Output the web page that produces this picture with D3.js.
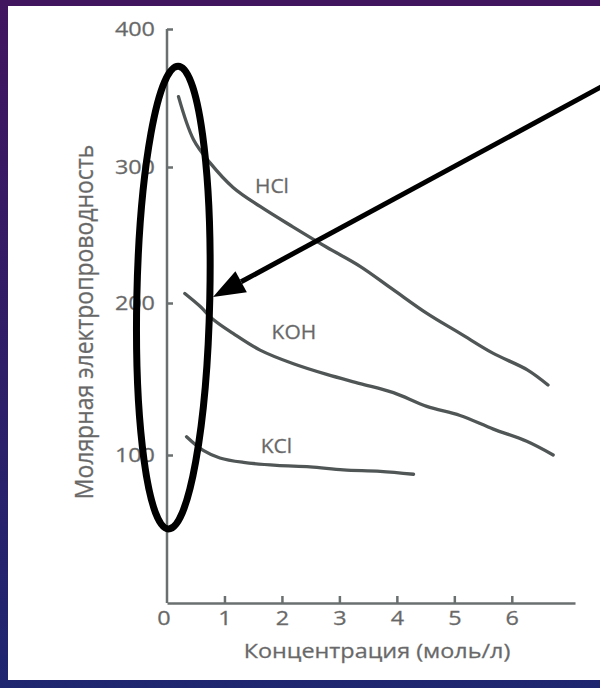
<!DOCTYPE html>
<html lang="ru">
<head>
<meta charset="UTF-8">
<title>Молярная электропроводность</title>
<script src="https://d3js.org/d3.v7.min.js"></script>
<style>
body { margin: 0; overflow: hidden; }
svg { display: block; }
.axis path, .axis line { stroke: #6a6f6f; stroke-width: 2.5px; }
.axis text { fill: #666; stroke: #777; stroke-width: 0.3px; font-family: "Open Sans", sans-serif; font-size: 19.5px; }
.curve { fill: none; stroke: #505555; stroke-width: 3.3px; stroke-linecap: round; }
.curve-label, .axis-title { fill: #666; stroke: #777; stroke-width: 0.3px; font-family: "Open Sans", sans-serif; }
</style>
</head>
<body>
<svg width="600" height="688"></svg>
<script>
// concentration (mol/l) / molar conductivity
const hclX = [0.2, 0.46, 0.75, 1.15, 1.62, 2.19, 2.78, 3.36, 3.93, 4.53, 5.10, 5.67, 6.27, 6.63];
const hclY = [351, 320, 303, 285, 271, 256, 241, 227, 210, 193, 180, 167, 156, 146];

const kohX = [0.31, 0.57, 0.81, 1.15, 1.62, 2.2, 2.78, 3.36, 3.94, 4.52, 5.10, 5.68, 6.26, 6.72];
const kohY = [207, 198, 189, 180, 169, 160, 153, 147, 141, 132, 126, 117, 109, 100];

const kclX = [0.34, 0.63, 0.92, 1.33, 1.91, 2.49, 3.07, 3.71, 4.29];
const kclY = [112, 103, 98, 95, 93, 92, 90, 89, 87];

const seriesNames = ['HCl', 'KOH', 'KCl'];
const labelX = [1.53, 1.82, 1.63];
const labelY = [281, 176, 101];

const xTicks = [0, 1, 2, 3, 4, 5, 6];
const yTicks = [100, 200, 300, 400];
const xTitle = 'Концентрация (моль/л)';
const yTitle = 'Молярная электропроводность';

// the source scan is a bit wider than tall, text looks stretched sideways
const stretch = 1.2;
const widen = (px, k) => `translate(${px},0) scale(${k},1) translate(${-px},0)`;

const svg = d3.select('svg');

// slide background + white panel
const defs = svg.append('defs');
const grad = defs.append('linearGradient')
    .attr('id', 'bg')
    .attr('x1', 0).attr('y1', 0).attr('x2', 0).attr('y2', 1);
grad.append('stop').attr('offset', '0%').attr('stop-color', '#42155f');
grad.append('stop').attr('offset', '100%').attr('stop-color', '#1f2670');

svg.append('rect').attr('width', 600).attr('height', 688).attr('fill', 'url(#bg)');
svg.append('rect')
    .attr('x', 8).attr('y', 6)
    .attr('width', 592).attr('height', 674)
    .attr('fill', '#fff');

// the source figure's tick spacing is uneven, so a piecewise scale
const x = d3.scaleLinear().domain([0, 7.1]).range([167, 575]);
const y = d3.scaleLinear()
    .domain([0, 100, 200, 300, 400])
    .range([603, 455, 303, 167, 29]);

svg.append('g')
    .attr('class', 'axis')
    .attr('transform', `translate(0,${y(0)})`)
    .call(d3.axisBottom(x)
      .tickValues(xTicks)
      .tickFormat(d3.format('d'))
      .tickSizeInner(-7)
      .tickSizeOuter(0)
      .tickPadding(8))
    .call(g => g.selectAll('.tick text').attr('transform', `scale(${stretch},1)`))
    .call(g => g.selectAll('.tick').filter(d => d === 0).select('line').remove())
    .call(g => g.selectAll('.tick').filter(d => d === 0).select('text').attr('dx', '-3'));

svg.append('g')
    .attr('class', 'axis')
    .attr('transform', `translate(${x(0)},0)`)
    .call(d3.axisLeft(y)
      .tickValues(yTicks)
      .tickSizeInner(-6)
      .tickSizeOuter(0)
      .tickPadding(12))
    .call(g => g.selectAll('.tick text').attr('transform', widen(-12, stretch)))
    .call(g => g.select('.domain').attr('d', `M0,${y(0)}V${y(400)}`));

const line = d3.line()
    .x(d => x(d[0]))
    .y(d => y(d[1]))
    .curve(d3.curveCatmullRom);

const series = [
  d3.zip(hclX, hclY),
  d3.zip(kohX, kohY),
  d3.zip(kclX, kclY)
];

svg.selectAll('path.curve').data(series)
  .enter().append('path')
    .attr('class', 'curve')
    .attr('d', line);

svg.selectAll('text.curve-label').data(seriesNames)
  .enter().append('text')
    .attr('class', 'curve-label')
    .attr('x', (d, i) => x(labelX[i]))
    .attr('y', (d, i) => y(labelY[i]))
    .attr('font-size', 20)
    .attr('transform', (d, i) => widen(x(labelX[i]), 1.05))
    .text(d => d);

svg.append('text')
    .attr('class', 'axis-title')
    .attr('x', 377)
    .attr('y', 658)
    .attr('text-anchor', 'middle')
    .attr('font-size', 19.5)
    .attr('transform', widen(377, 1.2))
    .text(xTitle);

svg.append('text')
    .attr('class', 'axis-title')
    .attr('transform', `translate(93,322) scale(1.1,1) rotate(-90)`)
    .attr('text-anchor', 'middle')
    .attr('font-size', 23)
    .text(yTitle);

// annotation: ellipse around the dilute end and the arrow pointing at it
svg.append('ellipse')
    .attr('cx', x(0.11))
    .attr('cy', y(204))
    .attr('rx', x(0.11) - x(-0.525))
    .attr('ry', y(50) - y(204))
    .attr('transform', `rotate(1.2,${x(0.11)},${y(204)})`)
    .attr('fill', 'none')
    .attr('stroke', '#000')
    .attr('stroke-width', 7);

const tip = [213, 297];
const tail = [612, 81];
const ang = Math.atan2(tail[1] - tip[1], tail[0] - tip[0]);
const headLen = 32, headW = 12;
const base = [tip[0] + headLen * Math.cos(ang), tip[1] + headLen * Math.sin(ang)];

svg.append('line')
    .attr('x1', tail[0]).attr('y1', tail[1])
    .attr('x2', base[0]).attr('y2', base[1])
    .attr('stroke', '#000')
    .attr('stroke-width', 5);

svg.append('path')
    .attr('d', d3.line()([
      tip,
      [base[0] - headW * Math.sin(ang), base[1] + headW * Math.cos(ang)],
      [base[0] + headW * Math.sin(ang), base[1] - headW * Math.cos(ang)]
    ]) + 'Z')
    .attr('fill', '#000');
</script>
</body>
</html>
